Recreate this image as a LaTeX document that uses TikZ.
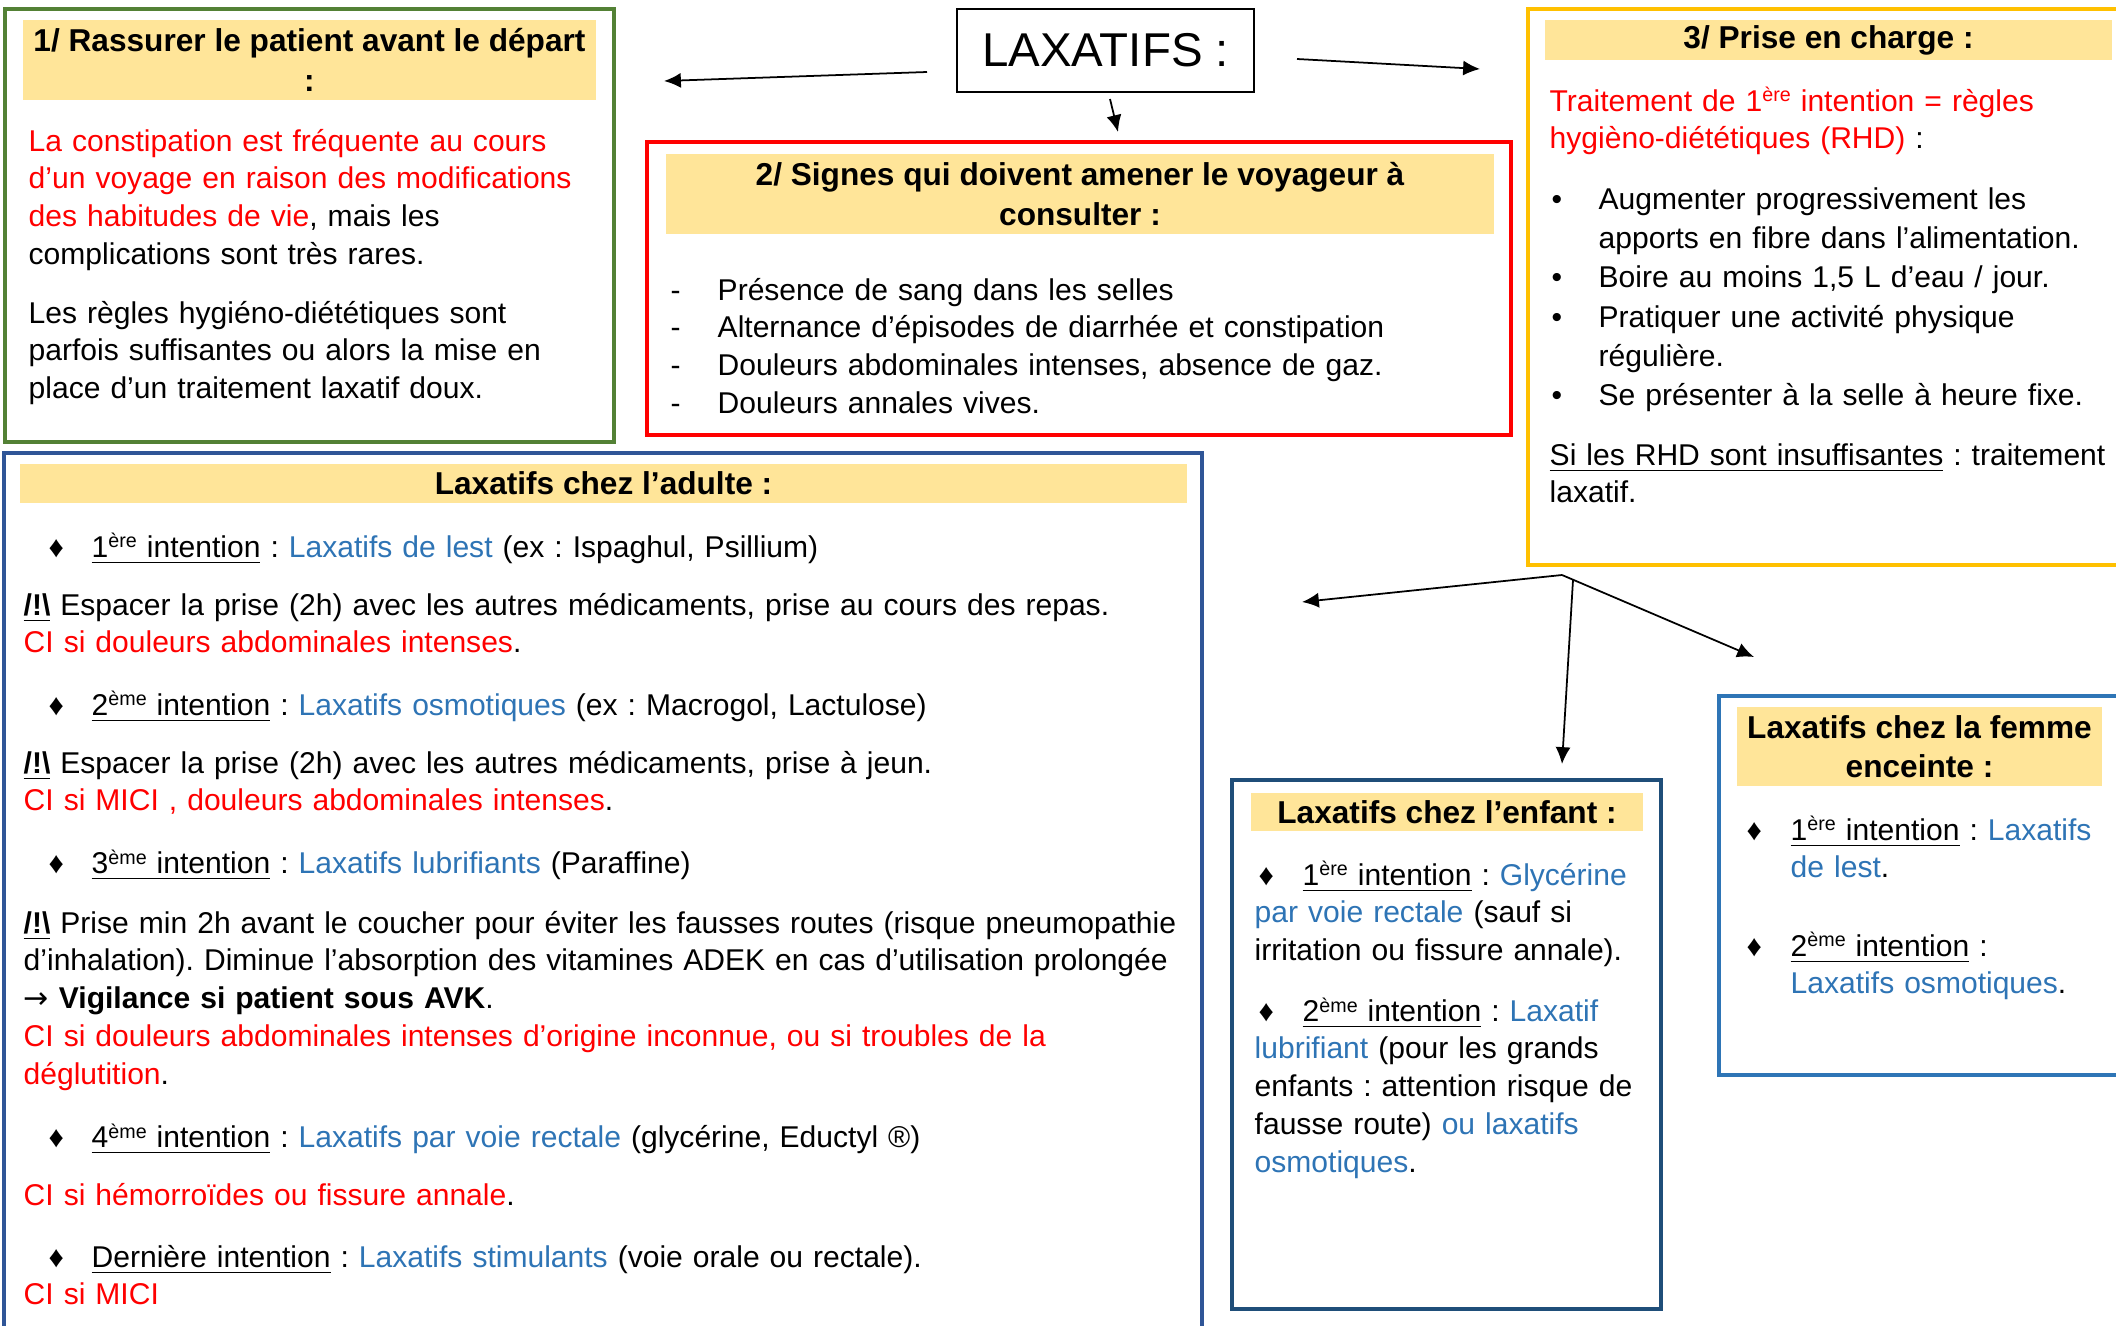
\documentclass[tikz,border=0pt]{standalone}
\usepackage{fontspec}
\setmainfont{Liberation Sans}
\newfontfamily\symb{DejaVu Sans}
\usetikzlibrary{arrows.meta}

\definecolor{vert}{HTML}{538135}
\definecolor{jaune}{HTML}{FFC000}
\definecolor{bleuA}{HTML}{2F5597}
\definecolor{bleuE}{HTML}{1F4E79}
\definecolor{bleuF}{HTML}{2E75B6}
\definecolor{fond}{HTML}{FFE599}
\definecolor{lien}{HTML}{2E74B5}

\newcommand{\puce}[2]{\makebox[#1][l]{\hspace{#2}♦}}
\newcommand{\tiret}{\makebox[0.47cm][l]{-}}
\newcommand{\point}{\makebox[0.49cm][l]{\hspace{0.02cm}•}}
\newcommand{\exposant}[1]{\raisebox{0.3em}{\fontsize{5.6}{6}\selectfont #1}}
\newcommand{\inten}[2]{\underline{#1\exposant{#2} intention}}
\newcommand{\attn}{\underline{\textbf{/!\textbackslash}}}
\newcommand{\bl}[1]{\textcolor{lien}{#1}}
\newcommand{\rg}[1]{\textcolor{red}{#1}}

\frenchspacing
\hyphenpenalty=10000

\begin{document}
\begin{tikzpicture}[
    cadre/.style={draw=#1, line width=1.3pt},
    titre/.style={fill=fond, inner sep=0pt, align=center, font=\fontsize{9.0}{11.2}\selectfont\bfseries},
    texte/.style={anchor=base west, inner sep=0pt, align=left, text width=#1, font=\fontsize{8.55}{10.8}\selectfont},
    fleche/.style={-{Latex[length=4.8pt,width=4.3pt]}, line width=0.5pt}
  ]
  \useasboundingbox (0,0) rectangle (21.16,-13.25);
  \clip (0,0) rectangle (21.16,-13.25);

  % Titre
  \node[draw, line width=0.7pt, minimum width=2.97cm, minimum height=0.83cm, inner sep=0pt,
        font=\fontsize{13.5}{16}\selectfont] (laxatifs) at (11.055,-0.505) {LAXATIFS :};

  % 1/ Rassurer
  \draw[cadre=vert] (0.05,-0.09) rectangle (6.14,-4.42);
  \node[titre, minimum width=5.73cm, minimum height=0.80cm] (rassurer) at (3.095,-0.60)
    {1/ Rassurer le patient avant le départ\\:};
  \node[texte=5.85cm] (constip) at (0.28,-1.51)
    {{\color{red}La constipation est fréquente au cours\\d’un voyage en raison des modifications\\des habitudes de vie}, mais les\\complications sont très rares.};
  \node[texte=5.85cm] (regles) at (0.28,-3.23)
    {Les règles hygiéno-diététiques sont\\parfois suffisantes ou alors la mise en\\place d’un traitement laxatif doux.};

  % 2/ Signes
  \draw[cadre=red] (6.47,-1.42) rectangle (15.11,-4.35);
  \node[titre, minimum width=8.28cm, minimum height=0.80cm] (signes) at (10.80,-1.94)
    {2/ Signes qui doivent amener le voyageur à\\consulter :};
  \node[texte=8.3cm] (signeslist) at (6.70,-3.00)
    {\tiret Présence de sang dans les selles\\
     \tiret Alternance d’épisodes de diarrhée et constipation\\
     \tiret Douleurs abdominales intenses, absence de gaz.\\
     \tiret Douleurs annales vives.};

  % 3/ Prise en charge
  \draw[cadre=jaune] (15.28,-0.09) rectangle (21.40,-5.65);
  \node[titre, minimum width=5.67cm, minimum height=0.40cm] (prise) at (18.285,-0.40)
    {3/ Prise en charge :};
  \node[texte=5.65cm] (rhd) at (15.49,-1.11)
    {{\color{red}Traitement de 1\exposant{ère} intention = règles\\hygièno-diététiques (RHD)} :};
  \node[texte=5.65cm, font=\fontsize{8.55}{11.2}\selectfont] (rhdlist) at (15.49,-2.09)
    {\point Augmenter progressivement les\\
     \hspace*{0.49cm}apports en fibre dans l’alimentation.\\
     \point Boire au moins 1,5 L d’eau / jour.\\
     \point Pratiquer une activité physique\\
     \hspace*{0.49cm}régulière.\\
     \point Se présenter à la selle à heure fixe.};
  \node[texte=6.2cm] (insuff) at (15.49,-4.65)
    {\underline{Si les RHD sont insuffisantes} : traitement\\laxatif.};

  % Laxatifs chez l'adulte
  \draw[cadre=bleuA] (0.04,-4.53) rectangle (12.02,-13.50);
  \node[titre, minimum width=11.67cm, minimum height=0.39cm] (adulte) at (6.035,-4.835)
    {Laxatifs chez l’adulte :};
  \node[texte=12.5cm] (ad1) at (0.23,-5.57)
    {\puce{0.68cm}{0.25cm}\inten{1}{ère} : \bl{Laxatifs de lest} (ex : Ispaghul, Psillium)};
  \node[texte=12.5cm] (ad2) at (0.23,-6.15)
    {\attn{} Espacer la prise (2h) avec les autres médicaments, prise au cours des repas.\\
     \rg{CI si douleurs abdominales intenses}.};
  \node[texte=12.5cm] (ad3) at (0.23,-7.15)
    {\puce{0.68cm}{0.25cm}\inten{2}{ème} : \bl{Laxatifs osmotiques} (ex : Macrogol, Lactulose)};
  \node[texte=12.5cm] (ad4) at (0.23,-7.73)
    {\attn{} Espacer la prise (2h) avec les autres médicaments, prise à jeun.\\
     \rg{CI si MICI , douleurs abdominales intenses}.};
  \node[texte=12.5cm] (ad5) at (0.23,-8.73)
    {\puce{0.68cm}{0.25cm}\inten{3}{ème} : \bl{Laxatifs lubrifiants} (Paraffine)};
  \node[texte=12.5cm] (ad6) at (0.23,-9.33)
    {\attn{} Prise min 2h avant le coucher pour éviter les fausses routes (risque pneumopathie\\
     d’inhalation). Diminue l’absorption des vitamines ADEK en cas d’utilisation prolongée\\
     {\symb →} \textbf{Vigilance si patient sous AVK}.\\
     {\color{red}CI si douleurs abdominales intenses d’origine inconnue, ou si troubles de la\\déglutition}.};
  \node[texte=12.5cm] (ad7) at (0.23,-11.47)
    {\puce{0.68cm}{0.25cm}\inten{4}{ème} : \bl{Laxatifs par voie rectale} (glycérine, Eductyl ®)};
  \node[texte=12.5cm] (ad8) at (0.23,-12.05)
    {\rg{CI si hémorroïdes ou fissure annale}.};
  \node[texte=12.5cm] (ad9) at (0.23,-12.67)
    {\puce{0.68cm}{0.25cm}\underline{Dernière intention} : \bl{Laxatifs stimulants} (voie orale ou rectale).\\
     \rg{CI si MICI}};

  % Laxatifs chez l'enfant
  \draw[cadre=bleuE] (12.32,-7.80) rectangle (16.61,-13.09);
  \node[titre, minimum width=3.92cm, minimum height=0.38cm] (enfant) at (14.47,-8.12)
    {Laxatifs chez l’enfant :};
  \node[texte=4.0cm] (en1) at (12.54,-8.85)
    {\puce{0.48cm}{0.04cm}\inten{1}{ère} : {\color{lien}Glycérine\\par voie rectale} (sauf si\\irritation ou fissure annale).};
  \node[texte=4.0cm] (en2) at (12.54,-10.21)
    {\puce{0.48cm}{0.04cm}\inten{2}{ème} : {\color{lien}Laxatif\\lubrifiant} (pour les grands\\enfants : attention risque de\\fausse route) {\color{lien}ou laxatifs\\osmotiques}.};

  % Laxatifs chez la femme enceinte
  \draw[cadre=bleuF] (17.19,-6.96) rectangle (21.40,-10.75);
  \node[titre, minimum width=3.65cm, minimum height=0.79cm] (femme) at (19.195,-7.465)
    {Laxatifs chez la femme\\enceinte :};
  \node[texte=3.65cm] (fe1) at (17.46,-8.40)
    {\puce{0.44cm}{0cm}\inten{1}{ère} : {\color{lien}Laxatifs\\\hspace*{0.44cm}de lest}.};
  \node[texte=3.65cm] (fe2) at (17.46,-9.56)
    {\puce{0.44cm}{0cm}\inten{2}{ème} :\\\hspace*{0.44cm}\bl{Laxatifs osmotiques}.};

  % Fleches
  \coordinate (gA) at (9.27,-0.72);
  \coordinate (gB) at (6.64,-0.81);
  \coordinate (dA) at (12.97,-0.59);
  \coordinate (dB) at (14.80,-0.69);
  \coordinate (bA) at (11.10,-0.99);
  \coordinate (bB) at (11.18,-1.32);
  \coordinate (pivot) at (15.62,-5.75);
  \coordinate (pivotB) at (15.73,-5.80);
  \coordinate (versAdulte) at (13.02,-6.02);
  \coordinate (versEnfant) at (15.62,-7.64);
  \coordinate (versFemme) at (17.54,-6.57);
  \draw[fleche] (gA) -- (gB);
  \draw[fleche] (dA) -- (dB);
  \draw[fleche] (bA) -- (bB);
  \draw[fleche] (pivot) -- (versAdulte);
  \draw[fleche] (pivotB) -- (versEnfant);
  \draw[fleche] (pivot) -- (versFemme);
\end{tikzpicture}
\end{document}
